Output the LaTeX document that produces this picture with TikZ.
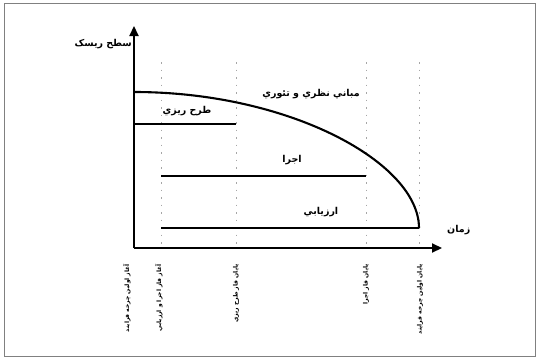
\documentclass[tikz,border=0pt]{standalone}
\usepackage{fontspec}
\newfontfamily\fafont[Script=Arabic]{DejaVu Sans}
\TeXXeTstate=1
\usetikzlibrary{positioning,arrows.meta}
\tikzset{
  axis/.style={line width=2.2pt,-{Triangle[length=10pt,width=9pt]}},
  phase/.style={line width=2.1pt},
  guide/.style={black!35,line width=0.5pt,dash pattern=on 1.5pt off 6pt},
  lbl/.style={font=\fafont\bfseries\fontsize{9.5}{11}\selectfont,inner sep=1pt},
  timemark/.style={font=\fafont\bfseries\fontsize{6}{7}\selectfont,rotate=90,anchor=east,inner sep=0pt},
}
\newcommand{\fa}[1]{\beginR #1\endR}

\begin{document}
\begin{tikzpicture}[x=1pt,y=-1pt]
\useasboundingbox (0,0) rectangle (539,359);
\draw[black!50,line width=0.6pt] (4,3) rectangle (535,356);
% axes
\coordinate (o) at (134,248);
\coordinate (ytop) at (134,26);
\coordinate (xend) at (442,248);
% guide lines
\foreach \n/\x in {a/161,b/236,c/366,d/419}{
  \coordinate (\n top) at (\x,62);
  \coordinate (\n bot) at (\x,248);
  \draw[guide] (\n top) -- (\n bot);
}
\draw[axis] (o) -- (ytop);
\draw[axis] (o) -- (xend);
\node[lbl, anchor=east] (risk) at (133,44) {\fa{سطح ريسک}};
\node[lbl, anchor=west] (time) at (446,230) {\fa{زمان}};
% phases
\coordinate (p1s) at (134,124); \coordinate (p1e) at (236,124);
\coordinate (p2s) at (161,176); \coordinate (p2e) at (366,176);
\coordinate (p3s) at (161,228); \coordinate (p3e) at (419,228);
\draw[phase] (p1s) -- (p1e);
\draw[phase] (p2s) -- (p2e);
\draw[phase] (p3s) -- (p3e);
% theory curve
\coordinate (cs) at (134,92);
\draw[phase] (cs) .. controls (290,92) and (419,163) .. (p3e);
\node[lbl] (theory) at (311,94) {\fa{مباني نظري و تئوري}};
\node[lbl] (plan) at (187,111) {\fa{طرح ريزي}};
\node[lbl] (exec) at (292,160) {\fa{اجرا}};
\node[lbl] (eval) at (321,212) {\fa{ارزيابي}};
% time marks
\node[timemark] (m0) at (127,264) {\fa{آغاز اولين چرخه فرايند}};
\node[timemark] (m1) at (159,264) {\fa{آغاز فاز اجرا و ارزيابي}};
\node[timemark] (m2) at (236,264) {\fa{پايان فاز طرح ريزي}};
\node[timemark] (m3) at (366,264) {\fa{پايان فاز اجرا}};
\node[timemark] (m4) at (420,264) {\fa{پايان اولين چرخه فرايند}};
\end{tikzpicture}
\end{document}
